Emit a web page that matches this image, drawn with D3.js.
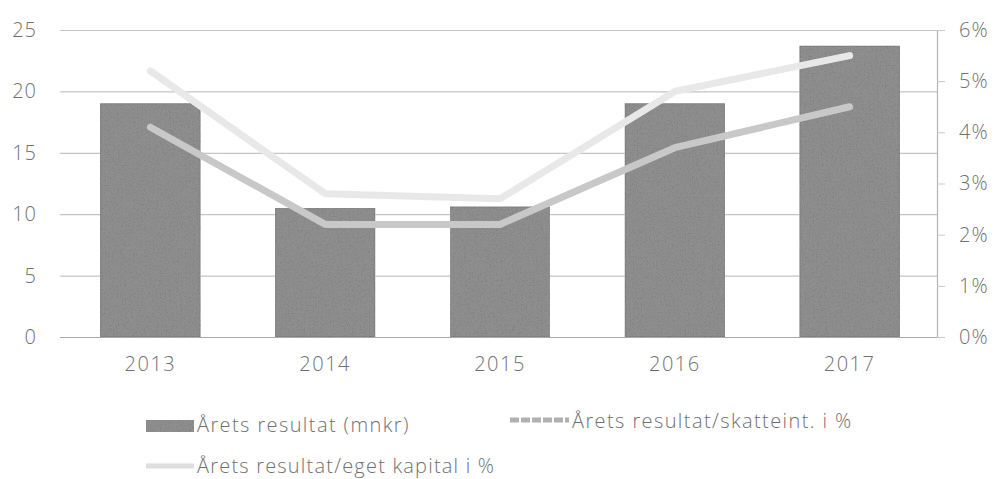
<!DOCTYPE html>
<html>
<head>
<meta charset="utf-8">
<script src="https://cdn.jsdelivr.net/npm/d3@7"></script>
<style>
  html, body { margin: 0; padding: 0; background: #fff; }
  svg { display: block; }
  text { font-family: "Open Sans", "Liberation Sans", sans-serif; fill: #707070; font-weight: 300; }
</style>
</head>
<body>
<svg id="chart" width="995" height="479"></svg>
<script>
// Data
const years = ["2013", "2014", "2015", "2016", "2017"];
const resultMnkr = [19.0, 10.5, 10.6, 19.0, 23.7];          // Årets resultat (mnkr)
const resultTaxPct = [4.1, 2.2, 2.2, 3.7, 4.5];             // Årets resultat/skatteint. i %
const resultEquityPct = [5.2, 2.8, 2.7, 4.8, 5.5];          // Årets resultat/eget kapital i %
const leftTicks = [0, 5, 10, 15, 20, 25];
const rightTicks = [0, 1, 2, 3, 4, 5, 6];
const legendLabels = [
  "Årets resultat (mnkr)",
  "Årets resultat/skatteint. i %",
  "Årets resultat/eget kapital i %"
];

const svg = d3.select("#chart");

const plot = { left: 63, right: 937, top: 30, bottom: 337 };

const x = d3.scaleBand()
  .domain(years)
  .range([plot.left, plot.right])
  .paddingInner(0.43)
  .paddingOuter(0.215);

const yL = d3.scaleLinear().domain([0, 25]).range([plot.bottom, plot.top]);
const yR = d3.scaleLinear().domain([0, 6]).range([plot.bottom, plot.top]);

// Grain texture for the bars
const defs = svg.append("defs");
const grain = defs.append("filter")
  .attr("id", "grain")
  .attr("x", 0).attr("y", 0).attr("width", 1).attr("height", 1);
grain.append("feTurbulence")
  .attr("type", "fractalNoise")
  .attr("baseFrequency", 0.75)
  .attr("numOctaves", 2)
  .attr("seed", 7)
  .attr("result", "noise");
grain.append("feColorMatrix")
  .attr("in", "noise").attr("type", "saturate").attr("values", 0)
  .attr("result", "gray");
const ct = grain.append("feComponentTransfer").attr("in", "gray").attr("result", "shade");
ct.append("feFuncR").attr("type", "linear").attr("slope", 1.0).attr("intercept", 0.5);
ct.append("feFuncG").attr("type", "linear").attr("slope", 1.0).attr("intercept", 0.5);
ct.append("feFuncB").attr("type", "linear").attr("slope", 1.0).attr("intercept", 0.5);
ct.append("feFuncA").attr("type", "linear").attr("slope", 0).attr("intercept", 1);
grain.append("feBlend")
  .attr("in", "SourceGraphic").attr("in2", "shade").attr("mode", "multiply")
  .attr("result", "mixed");
grain.append("feComposite")
  .attr("in", "mixed").attr("in2", "SourceGraphic").attr("operator", "in");

// Horizontal gridlines (left axis)
svg.append("g")
  .attr("class", "grid")
  .selectAll("line")
  .data(leftTicks)
  .join("line")
  .attr("x1", plot.left - 3)
  .attr("x2", plot.right)
  .attr("y1", d => yL(d) + 0.5)
  .attr("y2", d => yL(d) + 0.5)
  .attr("stroke", d => d === 0 ? "#a8a8a8" : "#c4c4c4")
  .attr("stroke-width", 1.2);

// Left axis labels
const leftAxis = d3.axisLeft(yL).tickValues(leftTicks).tickSize(0).tickPadding(0);
svg.append("g")
  .attr("transform", `translate(37,0)`)
  .call(leftAxis)
  .call(g => g.select(".domain").remove())
  .call(g => g.selectAll("text")
    .style("font-size", "20px")
    .style("letter-spacing", "1px")
    .attr("fill", "#707070"));

// Right axis with outward ticks
const rightAxis = d3.axisRight(yR)
  .tickValues(rightTicks)
  .tickFormat(d => d + "%")
  .tickSize(8)
  .tickSizeOuter(0)
  .tickPadding(14);
svg.append("g")
  .attr("transform", `translate(${plot.right},0)`)
  .call(rightAxis)
  .call(g => g.select(".domain").attr("stroke", "#b4b4b4").attr("stroke-width", 1.2))
  .call(g => g.selectAll(".tick line").attr("stroke", "#c8c8c8"))
  .call(g => g.selectAll("text")
    .style("font-size", "20px")
    .style("letter-spacing", "1px")
    .attr("fill", "#707070"));

// Bars
svg.append("g")
  .selectAll("rect")
  .data(years.map((yr, i) => ({ yr, v: resultMnkr[i] })))
  .join("rect")
  .attr("x", d => x(d.yr))
  .attr("y", d => yL(d.v))
  .attr("width", x.bandwidth())
  .attr("height", d => yL(0) - yL(d.v))
  .attr("fill", "#8e8e8e")
  .attr("stroke", "#7a7a7a")
  .attr("stroke-width", 1)
  .attr("filter", "url(#grain)");

// Bottom axis labels
const bottomAxis = d3.axisBottom(x).tickSize(0).tickPadding(0);
svg.append("g")
  .attr("transform", `translate(0,${plot.bottom + 20})`)
  .call(bottomAxis)
  .call(g => g.select(".domain").remove())
  .call(g => g.selectAll("text")
    .style("font-size", "20px")
    .style("letter-spacing", "1.5px")
    .attr("fill", "#6a6a6a"));

// Ratio lines on the right axis
const cx = d => x(d) + x.bandwidth() / 2;
const line = d3.line()
  .x(d => cx(d.yr))
  .y(d => yR(d.v));

const equityData = years.map((yr, i) => ({ yr, v: resultEquityPct[i] }));
const taxData = years.map((yr, i) => ({ yr, v: resultTaxPct[i] }));

svg.append("path")
  .datum(equityData)
  .attr("d", line)
  .attr("fill", "none")
  .attr("stroke", "#e8e8e8")
  .attr("stroke-width", 7)
  .attr("stroke-linecap", "round")
  .attr("stroke-linejoin", "round");

svg.append("path")
  .datum(taxData)
  .attr("d", line)
  .attr("fill", "none")
  .attr("stroke", "#c8c8c8")
  .attr("stroke-width", 7)
  .attr("stroke-linecap", "round")
  .attr("stroke-linejoin", "round");

// Legend
const legend = svg.append("g").attr("class", "legend");

legend.append("rect")
  .attr("x", 146).attr("y", 420)
  .attr("width", 48).attr("height", 12)
  .attr("fill", "#8e8e8e")
  .attr("filter", "url(#grain)");
legend.append("text")
  .attr("x", 197).attr("y", 432)
  .style("font-size", "20px")
  .style("letter-spacing", "1.4px")
  .text(legendLabels[0]);

legend.append("line")
  .attr("x1", 510).attr("x2", 569)
  .attr("y1", 420).attr("y2", 420)
  .attr("stroke", "#b0b0b0")
  .attr("stroke-width", 5)
  .attr("stroke-dasharray", "9 2");
legend.append("text")
  .attr("x", 572).attr("y", 428)
  .style("font-size", "20px")
  .style("letter-spacing", "1.4px")
  .text(legendLabels[1]);

legend.append("line")
  .attr("x1", 146).attr("x2", 194)
  .attr("y1", 466).attr("y2", 466)
  .attr("stroke", "#dedede")
  .attr("stroke-width", 5);
legend.append("text")
  .attr("x", 197).attr("y", 473)
  .style("font-size", "20px")
  .style("letter-spacing", "1.2px")
  .text(legendLabels[2]);
</script>
</body>
</html>
